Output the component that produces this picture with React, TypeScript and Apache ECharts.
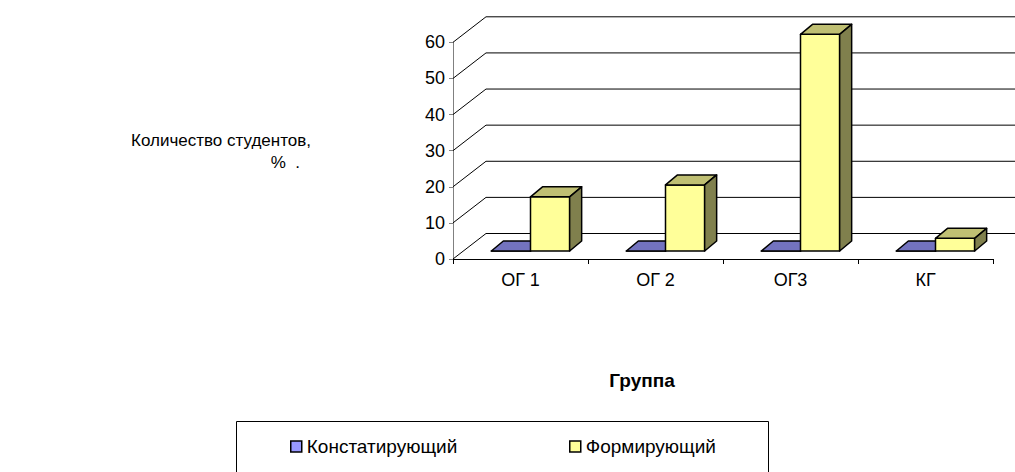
import React, { useEffect, useRef } from 'react';
import * as echarts from 'echarts';

const categories = ['ОГ 1', 'ОГ 2', 'ОГ3', 'КГ'];
const seriesNames = ['Констатирующий', 'Формирующий'];
const constValues = [0, 0, 0, 0];
const formValues = [15, 18.3, 60, 3.5];
const yTicks = [0, 10, 20, 30, 40, 50, 60];
const xTitle = 'Группа';
const yTitleLine1 = 'Количество студентов,';
const yTitleLine2 = '%  .';

const FONT = '"Liberation Sans", Arial, Helvetica, sans-serif';
const WALL = [33, -25.5];
const FRONT = [10, -8];
const DEPTH = [12, -10];
const BAR_FRAC = 0.29;

const makeBarRender = (slot: number, front: string, top: string, side: string) => (params: any, api: any) => {
  const idx = api.value(0);
  const v = api.value(1);
  const base = api.coord([idx, 0]);
  const tp = api.coord([idx, v]);
  const band = api.size([1, 0])[0];
  const w = band * BAR_FRAC;
  const x0 = base[0] + slot * w + FRONT[0];
  const x1 = x0 + w;
  const yb = base[1] + FRONT[1];
  const yt = tp[1] + FRONT[1];
  const dx = DEPTH[0];
  const dy = DEPTH[1];
  const ls = { stroke: '#000', lineWidth: 1.5, lineJoin: 'round' };
  return {
    type: 'group',
    children: [
      { type: 'polygon', shape: { points: [[x0, yb], [x1, yb], [x1, yt], [x0, yt]] }, style: { fill: front, ...ls } },
      { type: 'polygon', shape: { points: [[x0, yt], [x1, yt], [x1 + dx, yt + dy], [x0 + dx, yt + dy]] }, style: { fill: top, ...ls } },
      { type: 'polygon', shape: { points: [[x1, yb], [x1 + dx, yb + dy], [x1 + dx, yt + dy], [x1, yt]] }, style: { fill: side, ...ls } },
    ],
  };
};

const wallRender = (params: any, api: any) => {
  const v = api.value(1);
  const p = api.coord([0, v]);
  const band = api.size([1, 0])[0];
  const xl = p[0] - band / 2;
  const xr = api.coord([categories.length - 1, v])[0] + band / 2;
  const y = p[1];
  const st = { stroke: '#000', lineWidth: 1 };
  return {
    type: 'group',
    children: [
      { type: 'line', shape: { x1: xl, y1: y, x2: xl + WALL[0], y2: y + WALL[1] }, style: st },
      { type: 'line', shape: { x1: xl + WALL[0], y1: y + WALL[1], x2: xr + WALL[0], y2: y + WALL[1] }, style: st },
    ],
  };
};

export default function App() {
  const ref = useRef<HTMLDivElement>(null);
  useEffect(() => {
    document.body.style.margin = '0';
    const chart = echarts.init(ref.current!, null, { renderer: 'svg' });
    const legendBase = {
      orient: 'horizontal',
      top: 437,
      padding: 0,
      itemWidth: 11,
      itemHeight: 11,
      itemGap: 0,
      selectedMode: false,
      icon: 'rect',
      textStyle: { fontSize: 19, fontFamily: FONT, color: '#000', padding: [0, 0, 0, 0] },
    };
    chart.setOption({
      animation: false,
      backgroundColor: '#fff',
      grid: { left: 453, right: 22, top: 42.3, bottom: 213, containLabel: false },
      xAxis: {
        type: 'category',
        data: categories,
        boundaryGap: true,
        axisLine: { show: true, lineStyle: { color: '#000', width: 1 } },
        axisTick: { show: true, length: 5, lineStyle: { color: '#000' } },
        axisLabel: { margin: 12, fontSize: 18, color: '#000', fontFamily: FONT },
        splitLine: { show: false },
      },
      yAxis: {
        type: 'value',
        min: 0,
        max: 60,
        interval: 10,
        axisLine: { show: true, lineStyle: { color: '#808080', width: 1 } },
        axisTick: { show: true, length: 4, lineStyle: { color: '#808080' } },
        axisLabel: { margin: 8, fontSize: 18, color: '#000', fontFamily: FONT },
        splitLine: { show: false },
      },
      legend: [
        {
          ...legendBase,
          left: 290,
          data: [{ name: seriesNames[0], itemStyle: { color: '#9999FF', borderColor: '#000', borderWidth: 1.5 } }],
        },
        {
          ...legendBase,
          left: 569,
          data: [{ name: seriesNames[1], itemStyle: { color: '#FFFF99', borderColor: '#000', borderWidth: 1.5 } }],
        },
      ],
      graphic: [
        {
          type: 'rect',
          shape: { x: 236.5, y: 421.5, width: 532, height: 100 },
          style: { fill: 'none', stroke: '#000', lineWidth: 1 },
          z: -1,
        },
        {
          type: 'text',
          x: 642,
          y: 380,
          style: { text: xTitle, font: `bold 19px ${FONT}`, fill: '#000', textAlign: 'center', textVerticalAlign: 'middle' },
        },
        {
          type: 'text',
          x: 221,
          y: 140,
          style: { text: yTitleLine1, font: `17px ${FONT}`, fill: '#000', textAlign: 'center', textVerticalAlign: 'middle' },
        },
        {
          type: 'text',
          x: 300,
          y: 162,
          style: { text: yTitleLine2, font: `17px ${FONT}`, fill: '#000', textAlign: 'right', textVerticalAlign: 'middle' },
        },
      ],
      series: [
        {
          name: 'walls',
          type: 'custom',
          renderItem: wallRender,
          data: yTicks.map((v) => [0, v]),
          encode: { x: 0, y: 1 },
          clip: false,
          silent: true,
          z: 1,
        },
        {
          name: seriesNames[0],
          type: 'custom',
          renderItem: makeBarRender(-1, '#9999FF', '#7373BF', '#4D4D80'),
          data: constValues.map((v, i) => [i, v]),
          encode: { x: 0, y: 1 },
          itemStyle: { color: '#9999FF' },
          clip: false,
          z: 2,
        },
        {
          name: seriesNames[1],
          type: 'custom',
          renderItem: makeBarRender(0, '#FFFF99', '#BFBF73', '#80804D'),
          data: formValues.map((v, i) => [i, v]),
          encode: { x: 0, y: 1 },
          itemStyle: { color: '#FFFF99' },
          clip: false,
          z: 3,
        },
      ],
    });
    return () => chart.dispose();
  }, []);
  return <div ref={ref} style={{ width: 1015, height: 472 }} />;
}
